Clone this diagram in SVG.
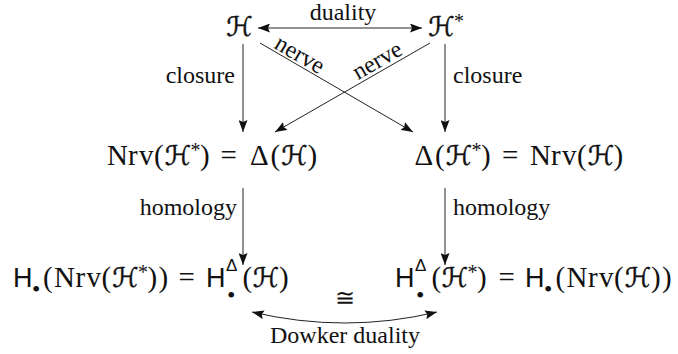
<svg xmlns="http://www.w3.org/2000/svg" width="678" height="354" viewBox="0 0 678 354">
<style>
.m{font-family:"Liberation Serif","DejaVu Serif",serif;font-size:29px;fill:#111}
.c{font-family:"DejaVu Sans",sans-serif;font-size:27px;stroke:#111;stroke-width:0.45}
.st{font-size:20px}
.sf{font-family:"Liberation Sans","DejaVu Sans",sans-serif;font-size:27px}
.sd{font-family:"Liberation Sans","DejaVu Sans",sans-serif;font-size:17px}
.bl{font-size:24px}
.l{font-family:"Liberation Serif","DejaVu Serif",serif;font-size:24px;fill:#111}
.e{stroke:#222;stroke-width:1;fill:none}
</style>
<defs>
<marker id="a" viewBox="0 0 12 9" refX="12" refY="4.5" markerWidth="12" markerHeight="9" markerUnits="userSpaceOnUse" orient="auto-start-reverse">
<path d="M0,0 L12,4.5 L0,9 L2,4.5 z" fill="#111"/>
</marker>
</defs>
<g id="H"><text class="m" y="36"><tspan class="c" x="226">ℋ</tspan></text></g>
<g id="Hstar"><text class="m" y="36"><tspan class="c" x="428">ℋ</tspan><tspan class="st" x="454" y="28">*</tspan></text></g>
<g id="NrvHstar"><text class="m" y="165"><tspan x="107 128 139 154">Nrv(</tspan><tspan class="c" x="164.5">ℋ</tspan><tspan class="st" x="190.5" y="157">*</tspan><tspan x="200" y="165">)</tspan><tspan x="220.5">=</tspan><tspan x="250">Δ</tspan><tspan x="270.5">(</tspan><tspan class="c" x="281">ℋ</tspan><tspan x="307.5">)</tspan></text></g>
<g id="DeltaHstar"><text class="m" y="165"><tspan x="414.5">Δ</tspan><tspan x="435">(</tspan><tspan class="c" x="445.5">ℋ</tspan><tspan class="st" x="471.5" y="157">*</tspan><tspan x="481" y="165">)</tspan><tspan x="502">=</tspan><tspan x="530 551 562 577">Nrv(</tspan><tspan class="c" x="587.5">ℋ</tspan><tspan x="613.5">)</tspan></text></g>
<g id="HNrvHstar"><text class="m" y="287"><tspan class="sf" x="13">H</tspan><tspan class="bl" x="32" y="297">•</tspan><tspan x="43 54 75.5 86.5 101.5" y="287">(Nrv(</tspan><tspan class="c" x="112">ℋ</tspan><tspan class="st" x="138" y="279">*</tspan><tspan x="147.5 158.5" y="287">))</tspan><tspan x="178.5">=</tspan><tspan class="sf" x="206">H</tspan><tspan class="sd" x="226" y="271">Δ</tspan><tspan class="bl" x="227" y="303">•</tspan><tspan x="242.5" y="287">(</tspan><tspan class="c" x="252.5">ℋ</tspan><tspan x="279">)</tspan></text></g>
<g id="HDeltaHstar"><text class="m" y="287"><tspan class="sf" x="395">H</tspan><tspan class="sd" x="415" y="271">Δ</tspan><tspan class="bl" x="416" y="303">•</tspan><tspan x="431.5" y="287">(</tspan><tspan class="c" x="441.5">ℋ</tspan><tspan class="st" x="467.5" y="279">*</tspan><tspan x="477" y="287">)</tspan><tspan x="498.5">=</tspan><tspan class="sf" x="525">H</tspan><tspan class="bl" x="544" y="297">•</tspan><tspan x="555.5 566.5 588 599 614" y="287">(Nrv(</tspan><tspan class="c" x="624.5">ℋ</tspan><tspan x="651 662">))</tspan></text></g>
<g id="connectors">
<path class="e" d="M258,28 L422,28" marker-start="url(#a)" marker-end="url(#a)"/>
<text class="l" x="343" y="20" text-anchor="middle">duality</text>
<path class="e" d="M243,44 L243,132" marker-end="url(#a)"/>
<text class="l" x="235" y="83" text-anchor="end">closure</text>
<path class="e" d="M445,44 L445,132" marker-end="url(#a)"/>
<text class="l" x="453" y="83">closure</text>
<path class="e" d="M260,43 L413,132" marker-end="url(#a)"/>
<text class="l" x="0" y="0" text-anchor="middle" transform="translate(296,61) rotate(30.2)">nerve</text>
<path class="e" d="M430,43 L275,132" marker-end="url(#a)"/>
<text class="l" x="0" y="0" text-anchor="middle" transform="translate(381,67) rotate(-29.9)">nerve</text>
<path class="e" d="M243,188 L243,265" marker-end="url(#a)"/>
<text class="l" x="237" y="215" text-anchor="end">homology</text>
<path class="e" d="M445,188 L445,265" marker-end="url(#a)"/>
<text class="l" x="453" y="215">homology</text>
<path class="e" d="M252,312 Q345,334 437,312" marker-start="url(#a)" marker-end="url(#a)"/>
<text class="l" x="345" y="306" text-anchor="middle">≅</text>
<text class="l" x="345" y="343" text-anchor="middle">Dowker duality</text>
</g>
</svg>
